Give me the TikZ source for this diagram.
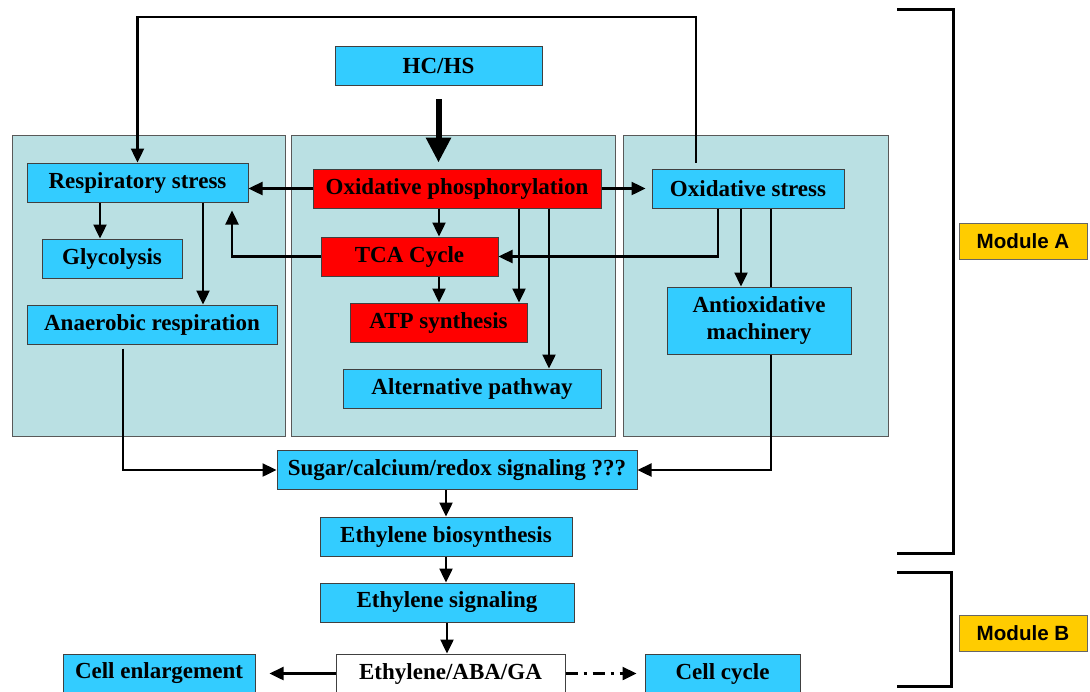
\documentclass[tikz,border=0pt]{standalone}
\usepackage{fontspec}
\setmainfont{Liberation Serif}
\newfontfamily\modfont{Liberation Sans}
\usetikzlibrary{arrows.meta, positioning}
\definecolor{skyblk}{RGB}{51,204,255}
\definecolor{panelc}{RGB}{186,224,227}
\definecolor{modc}{RGB}{255,204,0}
\begin{document}
\begin{tikzpicture}[x=0.5pt, y=-0.5pt, font=\bfseries\fontsize{11.5}{13.5}\selectfont,
  blk/.style={draw=black!75, line width=0.5pt, fill=skyblk, minimum height=19.5pt, inner sep=1pt, align=center},
  rblk/.style={blk, fill=red},
  pnl/.style={draw=black!65, line width=0.5pt, fill=panelc},
  arr/.style={-{Triangle[length=7pt,width=6.5pt]}, line width=1.2pt},
  modbox/.style={draw=black!60, line width=0.5pt, fill=modc, minimum width=64pt, minimum height=18pt, font=\modfont\bfseries\fontsize{10.3}{12}\selectfont}]
\useasboundingbox (0,0) rectangle (1090,691);
% the three panels of module A
\draw[pnl] (12,135) rectangle (285,436);
\draw[pnl] (291,135) rectangle (615,436);
\draw[pnl] (623,135) rectangle (888,436);
% boxes
\node[blk, minimum width=103.5pt] (hchs) at (438.5,66) {HC/HS};
\node[blk, minimum width=110.5pt] (resp) at (137.5,182.5) {Respiratory stress};
\node[blk, minimum width=70pt] (glyco) at (112,258.5) {Glycolysis};
\node[blk, minimum width=125pt] (anaer) at (152,324.5) {Anaerobic respiration};
\node[rblk, minimum width=144pt] (oxphos) at (457,188.5) {Oxidative phosphorylation};
\node[rblk, minimum width=88.5pt] (tca) at (409.5,256.5) {TCA Cycle};
\node[rblk, minimum width=88.5pt] (atp) at (438.5,322.5) {ATP synthesis};
\node[blk, minimum width=129pt] (alt) at (472,388.5) {Alternative pathway};
\node[blk, minimum width=96pt] (oxst) at (748,188.5) {Oxidative stress};
\node[blk, minimum width=92pt, minimum height=33.5pt] (antiox) at (759,320.5) {Antioxidative\\machinery};
\node[blk, minimum width=180pt] (sugar) at (457,470) {Sugar/calcium/redox signaling ???};
\node[blk, minimum width=126pt] (ethbio) at (446,536.5) {Ethylene biosynthesis};
\node[blk, minimum width=127pt] (ethsig) at (447,602.5) {Ethylene signaling};
\node[blk, fill=white, minimum width=114.5pt] (ethaba) at (450.5,673.5) {Ethylene/ABA/GA};
\node[blk, minimum width=96pt] (cellenl) at (159,673.5) {Cell enlargement};
\node[blk, minimum width=77.5pt] (cellcyc) at (722.5,673.5) {Cell cycle};
\coordinate (looptop) at (137.5,17);
% connectors
\draw[-{Triangle[length=12.5pt,width=12pt]}, line width=3pt, shorten <=6.5pt, shorten >=3pt] (hchs.south) -- (hchs.south |- oxphos.north);
\draw[arr, shorten <=3pt] ([xshift=-26pt]oxst.north) |- (looptop) -- (resp.north);
\draw[arr] (oxphos.west) -- (oxphos.west -| resp.east);
\draw[arr, shorten >=3pt] (oxphos.east) -- (oxst.west);
\draw[arr] ([xshift=-18.75pt]resp.south) -- ([xshift=-18.75pt]resp.south |- glyco.north);
\draw[arr] ([xshift=32.75pt]resp.south) -- ([xshift=32.75pt]resp.south |- anaer.north);
\draw[arr] ([xshift=-9pt]oxphos.south) -- ([xshift=-9pt]oxphos.south |- tca.north);
\draw[arr] ([xshift=31pt]oxphos.south) -- ([xshift=31pt]oxphos.south |- atp.north);
\draw[arr] ([xshift=46pt]oxphos.south) -- ([xshift=46pt]oxphos.south |- alt.north);
\draw[arr] ([xshift=14.75pt]tca.south) -- ([xshift=14.75pt]tca.south |- atp.north);
\draw[arr, shorten >=4pt] (tca.west) -| ([xshift=47.25pt]resp.south);
\draw[arr] ([xshift=-15pt]oxst.south) |- (tca.east);
\draw[arr] ([xshift=-3.5pt]oxst.south) -- ([xshift=-3.5pt]oxst.south |- antiox.north);
\draw[line width=1.2pt] ([xshift=11.5pt]oxst.south) -- ([xshift=11.5pt]oxst.south |- antiox.north);
\draw[arr] ([xshift=6pt]antiox.south) |- (sugar.east);
\draw[arr, shorten <=2pt] ([xshift=-14.5pt]anaer.south) |- (sugar.west);
\draw[arr] (ethbio.north |- sugar.south) -- (ethbio.north);
\draw[arr] (ethbio.south) -- (ethbio.south |- ethsig.north);
\draw[arr] (ethsig.south) -- (ethsig.south |- ethaba.north);
\draw[arr, shorten >=7pt] (ethaba.west) -- (cellenl.east);
\draw[arr, shorten >=4pt, dash pattern=on 6pt off 3pt on 1.5pt off 3pt] (ethaba.east) -- (cellcyc.west);
% module brackets
\draw[line width=1.5pt] (897,9) -- (953,9) -- (953,553) -- (897,553);
\draw[line width=1.5pt] (897,572) -- (951,572) -- (951,686) -- (897,686);
\node[modbox] (moda) at (1023,241) {Module A};
\node[modbox] (modb) at (1023,633) {Module B};
\end{tikzpicture}
\end{document}
